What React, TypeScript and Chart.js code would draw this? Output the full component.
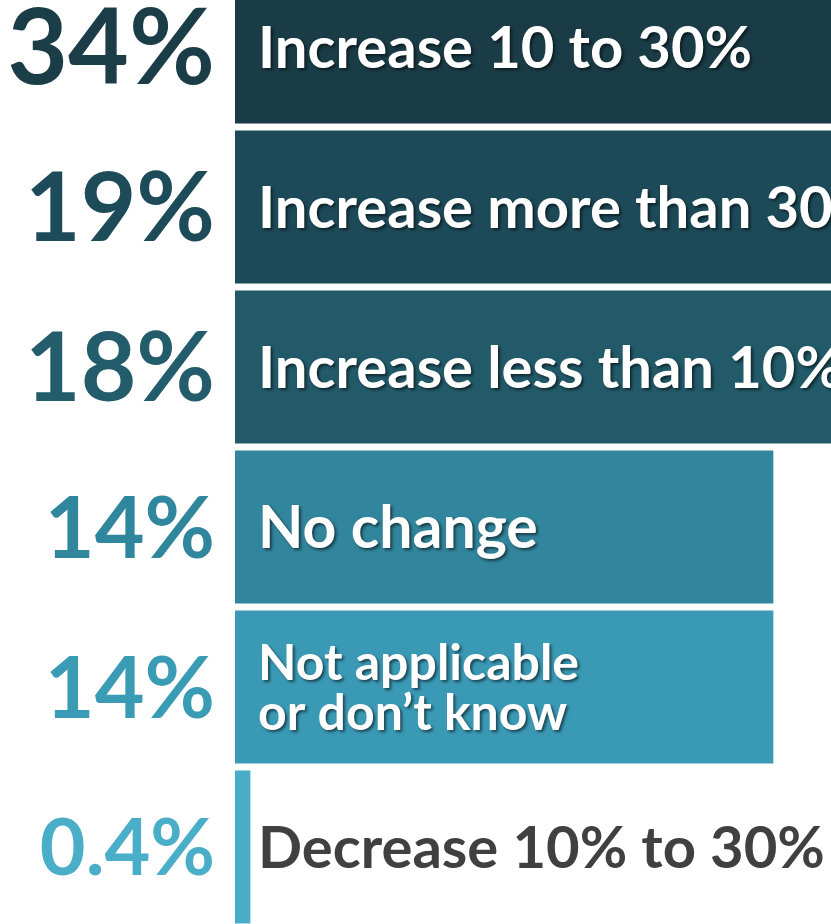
import React, { useEffect, useRef } from "react";
import { Chart, registerables } from "chart.js";

Chart.register(...registerables);

const categories: string[][] = [
  ["Increase 10 to 30%"],
  ["Increase more than 30%"],
  ["Increase less than 10%"],
  ["No change"],
  ["Not applicable", "or don\u2019t know"],
  ["Decrease 10% to 30%"],
];
const values: number[] = [34, 19, 18, 14, 14, 0.4];
const valueLabels: string[] = ["34%", "19%", "18%", "14%", "14%", "0.4%"];
const barColors: string[] = ["#1a3c47", "#1d4a58", "#225a69", "#31859c", "#3a9ab6", "#4aadc8"];
const valueColors: string[] = ["#1b3d48", "#1e4b5a", "#235c6b", "#2f869d", "#3a9bb5", "#4aaec8"];
const valueFontSizes: number[] = [105, 96, 96, 86, 86, 79];
const labelFontSizes: number[] = [58, 58, 58, 59, 50, 58];
const labelColors: string[] = ["#ffffff", "#ffffff", "#ffffff", "#ffffff", "#ffffff", "#404040"];

const FONT = 'Lato, "Open Sans", sans-serif';

const labelPlugin = {
  id: "rowLabels",
  afterDraw(chart: any) {
    const { ctx, chartArea, scales } = chart;
    const y = scales.y;
    ctx.save();
    for (let i = 0; i < categories.length; i++) {
      const cy = y.getPixelForValue(i);
      // percentage labels
      ctx.font = `bold ${valueFontSizes[i]}px ${FONT}`;
      ctx.fillStyle = valueColors[i];
      ctx.textAlign = "right";
      ctx.textBaseline = "middle";
      ctx.shadowColor = "transparent";
      ctx.fillText(valueLabels[i], chartArea.left - 20, cy + 3);
      // category labels
      ctx.font = `bold ${labelFontSizes[i]}px ${FONT}`;
      ctx.textAlign = "left";
      ctx.fillStyle = labelColors[i];
      if (labelColors[i] === "#ffffff") {
        ctx.shadowColor = "rgba(0,0,0,0.55)";
        ctx.shadowOffsetX = 2;
        ctx.shadowOffsetY = 2;
        ctx.shadowBlur = 3;
      } else {
        ctx.shadowColor = "transparent";
      }
      const lines = categories[i];
      const lh = 50;
      const startY = cy - ((lines.length - 1) * lh) / 2;
      lines.forEach((ln, k) => {
        ctx.fillText(ln, chartArea.left + 23, startY + k * lh + 2);
      });
    }
    ctx.restore();
  },
};

export default function App() {
  const ref = useRef<HTMLCanvasElement | null>(null);
  useEffect(() => {
    if (!ref.current) return;
    const chart = new Chart(ref.current, {
      type: "bar",
      data: {
        labels: categories.map((c) => c.join(" ")),
        datasets: [
          {
            data: values,
            backgroundColor: barColors,
            borderWidth: 0,
            barPercentage: 0.956,
            categoryPercentage: 1,
          },
        ],
      },
      options: {
        indexAxis: "y",
        animation: false,
        responsive: false,
        devicePixelRatio: 1,
        layout: { padding: { left: 235, right: 0, top: 0, bottom: 0 } },
        plugins: { legend: { display: false }, tooltip: { enabled: false } },
        scales: {
          x: { display: false, min: 0, max: 15.5 },
          y: { display: false, offset: true },
        },
      },
      plugins: [labelPlugin],
    });
    return () => chart.destroy();
  }, []);
  return (
    <div
      style={{
        position: "fixed",
        top: 0,
        left: 0,
        width: 831,
        height: 924,
        overflow: "hidden",
        background: "#ffffff",
      }}
    >
      <canvas
        ref={ref}
        width={831}
        height={960}
        style={{ position: "absolute", top: -33, left: 0, width: 831, height: 960 }}
      />
    </div>
  );
}
